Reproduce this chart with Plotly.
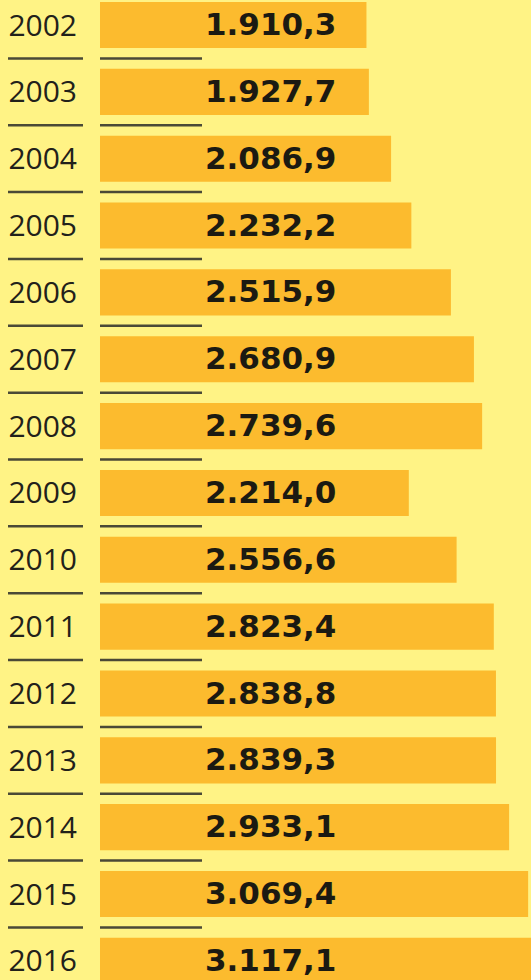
import plotly.graph_objects as go

years = ["2002", "2003", "2004", "2005", "2006", "2007", "2008", "2009",
         "2010", "2011", "2012", "2013", "2014", "2015", "2016"]
values = [1910.3, 1927.7, 2086.9, 2232.2, 2515.9, 2680.9, 2739.6, 2214.0,
          2556.6, 2823.4, 2838.8, 2839.3, 2933.1, 3069.4, 3117.1]

BG = "#FFF385"
BAR = "#FCBB2E"
LINE = "#4A4936"


def de_fmt(v):
    s = f"{v:,.1f}"
    return s.replace(",", "X").replace(".", ",").replace("X", ".")


labels = [de_fmt(v) for v in values]
XMAX = 3090
label_x = XMAX * (105 / 431)
YRANGE = [14.286, -0.374]
TEXT_DROP = 0.035  # small downward nudge of value labels (in row units)

fig = go.Figure()
fig.add_trace(go.Bar(
    y=years, x=values, orientation="h",
    marker=dict(color=BAR, line=dict(width=0)),
    width=0.69, hoverinfo="skip",
))
fig.add_trace(go.Scatter(
    y=[i + TEXT_DROP for i in range(len(years))], x=[label_x] * len(years),
    yaxis="y2", mode="text", text=labels,
    textposition="middle right",
    textfont=dict(family="DejaVu Sans", size=31, color="#1B1A12", weight="bold"),
    hoverinfo="skip", cliponaxis=False,
))

for i in range(len(years) - 1):
    yv = i + 0.5
    fig.add_shape(type="line", xref="paper", yref="y",
                  x0=-92 / 431, x1=-17 / 431, y0=yv, y1=yv,
                  line=dict(color=LINE, width=2.5), layer="above")
    fig.add_shape(type="line", xref="paper", yref="y",
                  x0=0, x1=102 / 431, y0=yv, y1=yv,
                  line=dict(color=LINE, width=2.5), layer="above")

fig.update_layout(
    width=531, height=980,
    margin=dict(l=100, r=0, t=0, b=0),
    paper_bgcolor=BG, plot_bgcolor=BG,
    showlegend=False,
    xaxis=dict(range=[0, XMAX], visible=False, showgrid=False, zeroline=False),
    yaxis=dict(
        type="category", range=YRANGE, autorange=False,
        showgrid=False, zeroline=False, showline=False, ticks="",
        tickfont=dict(family="Open Sans", size=30, color="#22211A"),
        ticklabelstandoff=22,
    ),
    yaxis2=dict(
        type="linear", range=YRANGE, autorange=False, overlaying="y",
        visible=False, showgrid=False, zeroline=False,
    ),
)

fig.write_html("out.html")
